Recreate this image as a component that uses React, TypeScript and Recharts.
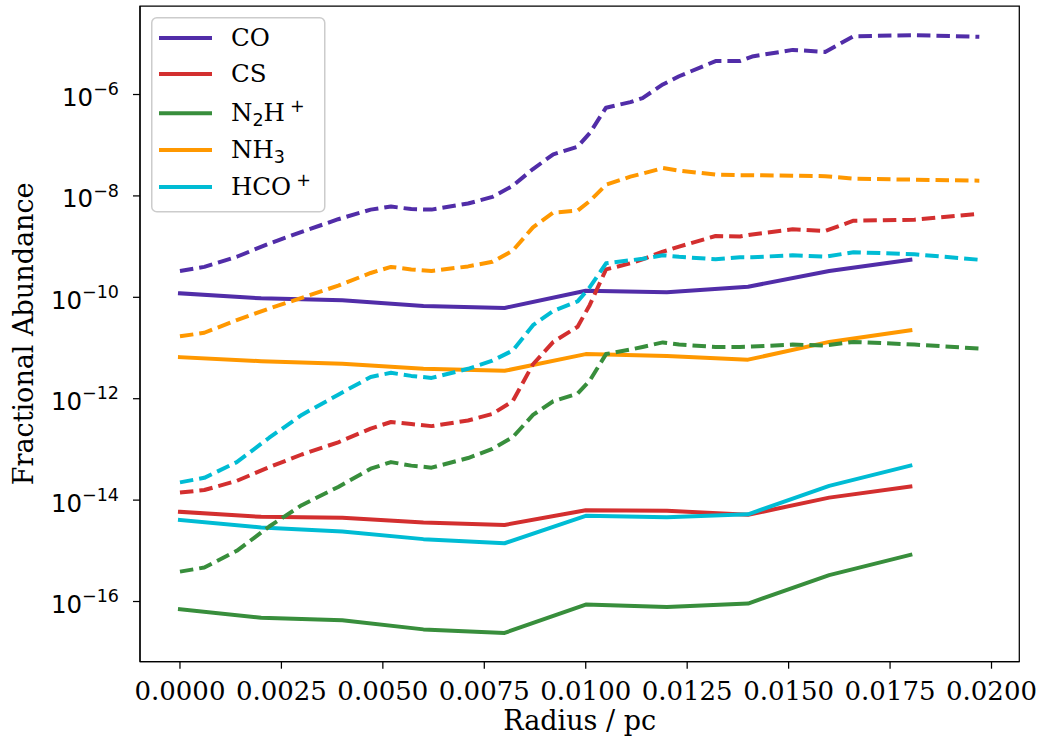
import React from 'react';
import { LineChart, Line, XAxis, YAxis, Legend, ReferenceArea, Label } from 'recharts';

// ---- data -------------------------------------------------------------

// Radii (pc) of the sampled abundances (solid lines)
const solidRadius = [0, 0.002, 0.004, 0.006, 0.008, 0.01, 0.012, 0.014, 0.016, 0.018];

const coSolid = [1.2e-10, 9.55e-11, 8.71e-11, 6.76e-11, 6.17e-11, 1.35e-10, 1.26e-10, 1.62e-10, 3.31e-10, 5.5e-10];
const csSolid = [5.89e-15, 4.68e-15, 4.47e-15, 3.63e-15, 3.24e-15, 6.31e-15, 6.17e-15, 5.13e-15, 1.12e-14, 1.86e-14];
const n2hSolid = [7.08e-17, 4.79e-17, 4.27e-17, 2.82e-17, 2.4e-17, 8.71e-17, 7.76e-17, 9.12e-17, 3.31e-16, 8.32e-16];
const nh3Solid = [6.61e-12, 5.5e-12, 4.9e-12, 3.89e-12, 3.55e-12, 7.59e-12, 6.92e-12, 5.89e-12, 1.32e-11, 2.24e-11];
const hcoSolid = [4.07e-15, 2.88e-15, 2.4e-15, 1.7e-15, 1.41e-15, 4.9e-15, 4.57e-15, 5.25e-15, 1.91e-14, 4.79e-14];

// Radii (pc) of the model profiles (dashed lines)
const dashedRadius = [
  0, 0.0006, 0.0014, 0.0022, 0.003, 0.0039, 0.0047, 0.0052, 0.0057, 0.0062,
  0.0071, 0.0077, 0.0082, 0.0087, 0.0092, 0.0098, 0.0101, 0.0105, 0.0111, 0.0114,
  0.0119, 0.0123, 0.0132, 0.0138, 0.0141, 0.0151, 0.0159, 0.0166, 0.0181, 0.0197,
];

const coDashed = [
  3.31e-10, 3.98e-10, 6.31e-10, 1.15e-9, 1.95e-9, 3.47e-9, 5.37e-9, 6.17e-9, 5.5e-9, 5.37e-9,
  7.08e-9, 9.55e-9, 1.58e-8, 3.39e-8, 6.61e-8, 9.33e-8, 1.74e-7, 5.5e-7, 7.08e-7, 8.51e-7,
  1.58e-6, 2.29e-6, 4.57e-6, 4.57e-6, 5.62e-6, 7.59e-6, 6.92e-6, 1.41e-5, 1.48e-5, 1.38e-5,
];
const csDashed = [
  1.41e-14, 1.58e-14, 2.4e-14, 4.47e-14, 7.94e-14, 1.38e-13, 2.57e-13, 3.47e-13, 3.16e-13, 2.88e-13,
  3.72e-13, 5.01e-13, 8.91e-13, 4.79e-12, 1.32e-11, 2.63e-11, 7.08e-11, 3.55e-10, 4.68e-10, 5.62e-10,
  7.94e-10, 1.0e-9, 1.62e-9, 1.58e-9, 1.74e-9, 2.19e-9, 2.04e-9, 3.24e-9, 3.39e-9, 4.47e-9,
];
const n2hDashed = [
  3.89e-16, 4.68e-16, 1.0e-15, 3.02e-15, 7.94e-15, 1.82e-14, 4.17e-14, 5.62e-14, 4.79e-14, 4.37e-14,
  6.76e-14, 1.02e-13, 1.74e-13, 4.79e-13, 8.91e-13, 1.26e-12, 2.29e-12, 7.59e-12, 9.33e-12, 1.05e-11,
  1.29e-11, 1.17e-11, 1.05e-11, 1.05e-11, 1.07e-11, 1.17e-11, 1.12e-11, 1.32e-11, 1.17e-11, 9.77e-12,
];
const nh3Dashed = [
  1.7e-11, 2.0e-11, 3.55e-11, 6.03e-11, 9.77e-11, 1.7e-10, 3.02e-10, 3.98e-10, 3.55e-10, 3.31e-10,
  4.07e-10, 5.01e-10, 8.32e-10, 2.4e-9, 4.68e-9, 5.13e-9, 7.94e-9, 1.66e-8, 2.4e-8, 2.75e-8,
  3.55e-8, 3.16e-8, 2.63e-8, 2.57e-8, 2.57e-8, 2.51e-8, 2.45e-8, 2.19e-8, 2.09e-8, 2.0e-8,
];
const hcoDashed = [
  2.24e-14, 2.75e-14, 5.62e-14, 1.7e-13, 4.79e-13, 1.2e-12, 2.69e-12, 3.24e-12, 2.82e-12, 2.57e-12,
  3.89e-12, 5.62e-12, 8.91e-12, 2.82e-11, 5.37e-11, 8.32e-11, 1.58e-10, 4.68e-10, 5.37e-10, 5.75e-10,
  6.76e-10, 6.31e-10, 5.62e-10, 6.17e-10, 6.17e-10, 6.76e-10, 6.31e-10, 7.76e-10, 7.08e-10, 5.5e-10,
];

const xTicks = [0, 0.0025, 0.005, 0.0075, 0.01, 0.0125, 0.015, 0.0175, 0.02];
const yTicks = [1e-16, 1e-14, 1e-12, 1e-10, 1e-8, 1e-6];

// ---- layout -----------------------------------------------------------

const W = 1041;
const H = 743;
const PLOT_LEFT = 140;
const PLOT_RIGHT = 1019.3;
const PLOT_TOP = 6;
const PLOT_BOTTOM = 661.7;

// axis limits (x: 5% padding around 0..0.0197 pc, y: 5% padding in decades)
const X_DOMAIN: [number, number] = [-0.000985, 0.020685];
const Y_DOMAIN: [number, number] = [6.5e-18, 5.57e-5];

const SERIF = '"DejaVu Serif", serif';
const SANS = '"DejaVu Sans", sans-serif';

type Species = { key: string; name: string; color: string; solid: number[]; dashed: number[] };

const species: Species[] = [
  { key: 'co', name: 'CO', color: '#512DA8', solid: coSolid, dashed: coDashed },
  { key: 'cs', name: 'CS', color: '#D32F2F', solid: csSolid, dashed: csDashed },
  { key: 'n2h', name: 'N2H+', color: '#388E3C', solid: n2hSolid, dashed: n2hDashed },
  { key: 'nh3', name: 'NH3', color: '#FF9800', solid: nh3Solid, dashed: nh3Dashed },
  { key: 'hco', name: 'HCO+', color: '#00BCD4', solid: hcoSolid, dashed: hcoDashed },
];

const toRows = (radius: number[], values: number[]) => radius.map((r, i) => ({ r, v: values[i] }));

const LW = 4;

// ---- ticks and labels -------------------------------------------------

const XTick = (props: any) => {
  const { x, y, payload } = props;
  return (
    <text x={x} y={y + 29.3} textAnchor="middle" fontFamily={SERIF} fontSize={26} fill="#000">
      {Number(payload.value).toFixed(4)}
    </text>
  );
};

const YTick = (props: any) => {
  const { x, y, payload } = props;
  const exp = Math.round(Math.log10(payload.value));
  return (
    <text x={x - 12} y={y + 11.4} textAnchor="end" fontFamily={SANS} fontSize={24.5} fill="#000">
      10
      <tspan dy={-10.7} fontSize={17.5}>
        {'\u2212' + Math.abs(exp)}
      </tspan>
    </text>
  );
};

const speciesLabel = (name: string) => {
  const sub = (t: string) => (
    <tspan dy={4.5} fontSize={17.5} fontFamily={SANS}>
      {t}
    </tspan>
  );
  switch (name) {
    case 'N2H+':
      return (
        <>
          <tspan>N</tspan>
          {sub('2')}
          <tspan dy={-4.5}>H</tspan>
          <tspan dx={5} dy={-9} fontSize={17.5} fontFamily={SANS}>
            +
          </tspan>
        </>
      );
    case 'NH3':
      return (
        <>
          <tspan>NH</tspan>
          {sub('3')}
        </>
      );
    case 'HCO+':
      return (
        <>
          <tspan>HCO</tspan>
          <tspan dx={5} dy={-9} fontSize={17.5} fontFamily={SANS}>
            +
          </tspan>
        </>
      );
    default:
      return <tspan>{name}</tspan>;
  }
};

const LEG_X = 152;
const LEG_Y = 18;
const LEG_W = 173;
const LEG_H = 194;
const legendRowY = [21, 57, 96.3, 133, 170];

const LegendBox = () => (
  <svg width={LEG_W + 2} height={LEG_H + 2} style={{ display: 'block' }}>
    <rect
      x={0.75}
      y={0.75}
      width={LEG_W}
      height={LEG_H}
      rx={5}
      ry={5}
      fill="#ffffff"
      fillOpacity={0.8}
      stroke="#cccccc"
      strokeWidth={1.5}
    />
    {species.map((s, i) => (
      <g key={s.key}>
        <line x1={8} x2={61} y1={legendRowY[i]} y2={legendRowY[i]} stroke={s.color} strokeWidth={LW} strokeLinecap="butt" />
        <text x={80} y={legendRowY[i] + 8} fontFamily={SERIF} fontSize={24.5} fill="#000">
          {speciesLabel(s.name)}
        </text>
      </g>
    ))}
  </svg>
);

export default function App() {
  return (
    <div style={{ position: 'absolute', left: 0, top: 0, width: W, height: H, background: '#fff' }}>
      <LineChart
        width={W}
        height={H}
        margin={{ top: PLOT_TOP, right: W - PLOT_RIGHT, bottom: 0, left: 0 }}
      >
        <XAxis
          type="number"
          dataKey="r"
          domain={X_DOMAIN}
          ticks={xTicks}
          allowDataOverflow
          height={H - PLOT_BOTTOM}
          tick={<XTick />}
          tickSize={7}
          tickMargin={2}
          axisLine={{ stroke: '#000', strokeWidth: 1.25 }}
          tickLine={{ stroke: '#000', strokeWidth: 1.25 }}
        >
          <Label
            content={() => (
              <text
                x={(PLOT_LEFT + PLOT_RIGHT) / 2}
                y={730}
                textAnchor="middle"
                fontFamily={SERIF}
                fontSize={27}
                fill="#000"
              >
                Radius / pc
              </text>
            )}
          />
        </XAxis>
        <YAxis
          type="number"
          scale="log"
          domain={Y_DOMAIN}
          ticks={yTicks}
          allowDataOverflow
          width={PLOT_LEFT}
          tick={<YTick />}
          tickSize={7}
          tickMargin={2}
          axisLine={{ stroke: '#000', strokeWidth: 1.25 }}
          tickLine={{ stroke: '#000', strokeWidth: 1.25 }}
        >
          <Label
            content={() => {
              const cy = (PLOT_TOP + PLOT_BOTTOM) / 2;
              return (
                <text
                  x={33}
                  y={cy}
                  transform={`rotate(-90 33 ${cy})`}
                  textAnchor="middle"
                  fontFamily={SERIF}
                  fontSize={27}
                  fill="#000"
                >
                  Fractional Abundance
                </text>
              );
            }}
          />
        </YAxis>

        <ReferenceArea
          x1={X_DOMAIN[0]}
          x2={X_DOMAIN[1]}
          y1={Y_DOMAIN[0]}
          y2={Y_DOMAIN[1]}
          fill="none"
          stroke="#000"
          strokeWidth={1.25}
        />

        {species.map((s) => (
          <Line
            key={s.key + '-solid'}
            data={toRows(solidRadius, s.solid)}
            dataKey="v"
            name={s.name}
            type="linear"
            stroke={s.color}
            strokeWidth={LW}
            strokeLinecap="square"
            strokeLinejoin="round"
            dot={false}
            activeDot={false}
            isAnimationActive={false}
          />
        ))}
        {species.map((s) => (
          <Line
            key={s.key + '-dashed'}
            data={toRows(dashedRadius, s.dashed)}
            dataKey="v"
            name={s.name + ' model'}
            type="linear"
            stroke={s.color}
            strokeWidth={LW}
            strokeDasharray="13.5 6"
            strokeLinecap="butt"
            strokeLinejoin="round"
            dot={false}
            activeDot={false}
            legendType="none"
            isAnimationActive={false}
          />
        ))}

        <Legend
          layout="vertical"
          align="center"
          verticalAlign="middle"
          content={() => <LegendBox />}
          wrapperStyle={{ position: 'absolute', left: LEG_X - 1, top: LEG_Y - 1, width: LEG_W + 2, height: LEG_H + 2 }}
        />
      </LineChart>
    </div>
  );
}
